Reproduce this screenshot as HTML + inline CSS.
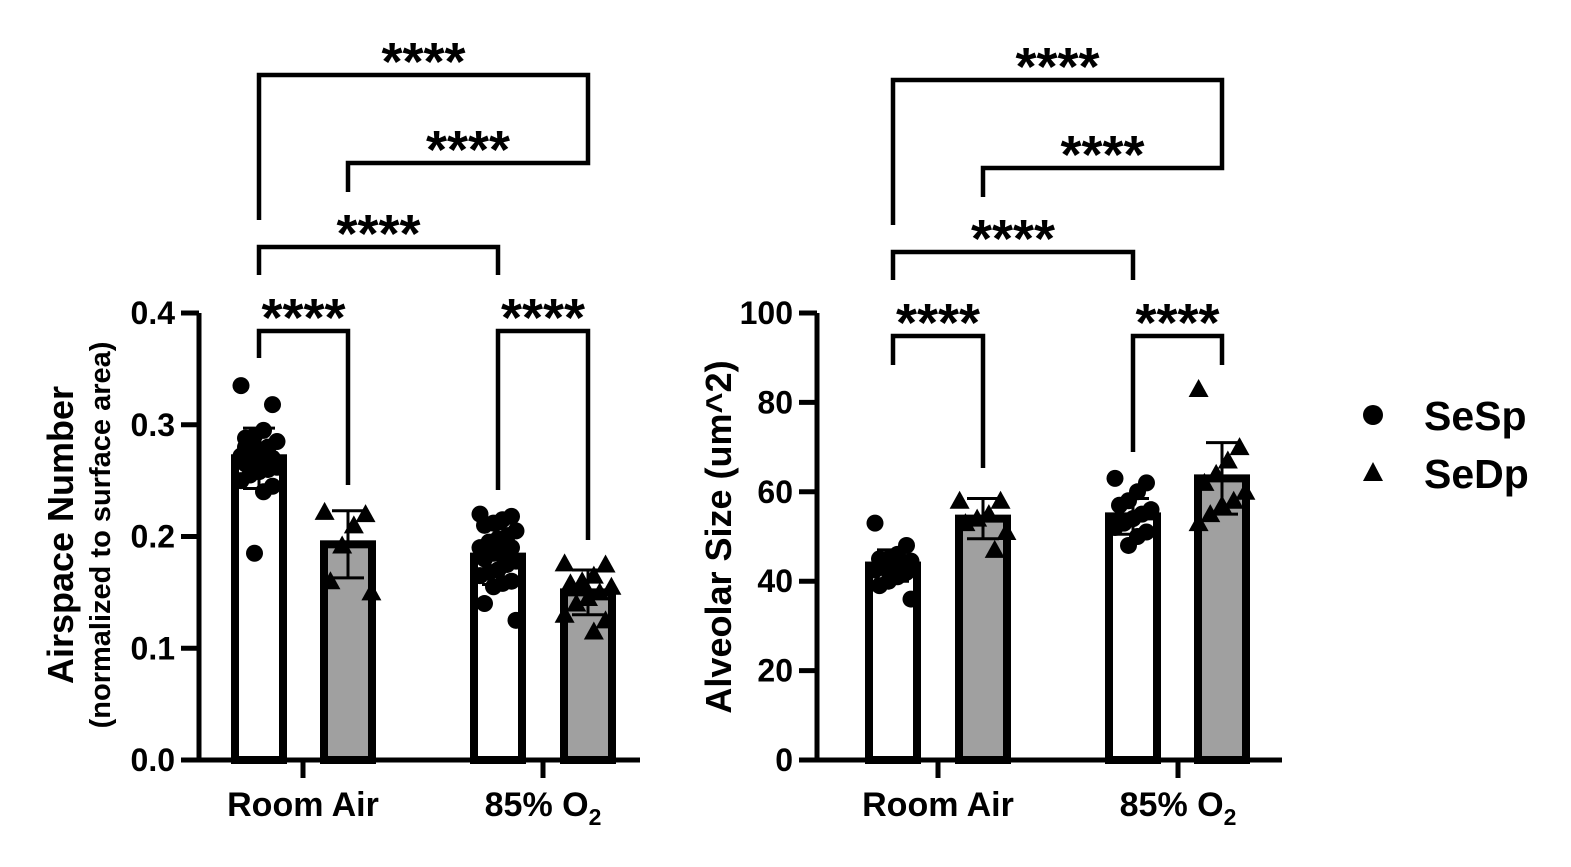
<!DOCTYPE html>
<html><head><meta charset="utf-8"><style>
body{margin:0;background:#fff;}
svg{display:block;font-family:"Liberation Sans",sans-serif;font-weight:bold;}
</style></head><body>
<svg id="chart" width="1571" height="867" viewBox="0 0 1571 867" xmlns="http://www.w3.org/2000/svg">
<g id="left"></g>
<g id="right"></g>
<g>
<circle cx="1373" cy="415" r="10" fill="#000"/>
<text x="1424" y="430" font-size="41">SeSp</text>
<polygon points="1373,462 1383,481 1363,481" fill="#000"/>
<text x="1424" y="488" font-size="41">SeDp</text>
</g>
</svg>
<script>
const groups = ["Room Air", "85% O2"];
const leftTicks = [0.0, 0.1, 0.2, 0.3, 0.4];
const leftMeans = [0.270, 0.193, 0.182, 0.150];
const leftSD = [0.027, 0.030, 0.025, 0.020];
const leftRA_SeSp = [0.335,0.318,0.295,0.290,0.288,0.285,0.280,0.278,0.275,0.272,0.270,0.270,0.268,0.265,0.262,0.260,0.258,0.255,0.250,0.245,0.240,0.185,0.280,0.266];
const leftRA_SeDp = [0.222,0.220,0.210,0.192,0.160,0.150];
const leftO2_SeSp = [0.220,0.218,0.215,0.212,0.210,0.205,0.200,0.198,0.195,0.190,0.190,0.188,0.185,0.180,0.178,0.175,0.170,0.168,0.165,0.160,0.158,0.155,0.140,0.125];
const leftO2_SeDp = [0.176,0.175,0.165,0.160,0.158,0.155,0.150,0.145,0.140,0.130,0.125,0.115];
const rightTicks = [0, 20, 40, 60, 80, 100];
const rightMeans = [43.5, 54.0, 54.5, 63.0];
const rightSD = [3.5, 4.5, 4.0, 8.0];
const rightRA_SeSp = [53,48,46,45,45,44.5,44,43.5,43,42.5,42,41,40,39,36];
const rightRA_SeDp = [58,58,55,54,53,51,47];
const rightO2_SeSp = [63,62,60,58,57,56,55,54,53,52,51,50,48];
const rightO2_SeDp = [83,70,67,64,62,60,58,57,55,53];
const NS='http://www.w3.org/2000/svg';
function mk(parent, tag, attrs){const e=document.createElementNS(NS,tag);for(const k in attrs)e.setAttribute(k,attrs[k]);parent.appendChild(e);return e;}

function drawChart(g, cfg){
  const y0=760, yTop=313;
  const ys=v=>y0-(v-cfg.min)/(cfg.max-cfg.min)*(y0-yTop);
  const ax=cfg.axisX;
  const fills=['#fff','#a0a0a0','#fff','#a0a0a0'];
  const pts=[cfg.p0,cfg.p1,cfg.p2,cfg.p3];
  cfg.centers.forEach((cx,i)=>{
    const b=mk(g,'rect',{x:cx-24,y:ys(cfg.means[i]),width:48,height:y0-ys(cfg.means[i]),fill:fills[i],stroke:'#000','stroke-width':8});
    
    
  });
  cfg.centers.forEach((cx,i)=>{
    pts[i].forEach((v,j)=>{
      const off=((j*7)%9-4)*4.5;
      let m;
      if(i%2===0){m=mk(g,'circle',{cx:cx+off,cy:ys(v),r:8.5,fill:'#000'});}
      else{const x=cx+off*1.3,y=ys(v);m=mk(g,'polygon',{points:`${x},${y-10} ${x+10},${y+8} ${x-10},${y+8}`,fill:'#000'});}
      
      
    });
  });
  cfg.centers.forEach((cx,i)=>{
    const hi=ys(cfg.means[i]+cfg.sd[i]),lo=ys(cfg.means[i]-cfg.sd[i]);
    const e=mk(g,'path',{d:`M${cx},${hi}V${lo}M${cx-16},${hi}H${cx+16}M${cx-16},${lo}H${cx+16}`,stroke:'#000','stroke-width':3,fill:'none'});
    
    
  });
  const a=mk(g,'path',{d:`M${ax},${yTop}V${y0}H${cfg.axisEnd}`,stroke:'#000','stroke-width':5,fill:'none'});
  
  
  cfg.ticks.forEach(t=>{
    const y=ys(t);
    const tk=mk(g,'line',{x1:ax-18,x2:ax,y1:y,y2:y,stroke:'#000','stroke-width':5});
    
    
    const tl=mk(g,'text',{x:ax-24,y:y+11,'text-anchor':'end','font-size':32});
    tl.textContent=cfg.fmt(t);
    
    
  });
  cfg.groupX.forEach((gx,i)=>{
    const tk=mk(g,'line',{x1:gx,x2:gx,y1:y0,y2:y0+18,stroke:'#000','stroke-width':5});
    
    
    const tl=mk(g,'text',{x:gx,y:816,'text-anchor':'middle','font-size':34});
    if(groups[i]==='85% O2'){tl.innerHTML='85% O<tspan font-size="23" dy="9">2</tspan>';}
    else tl.textContent=groups[i];
    
    
  });
  cfg.brackets.forEach(br=>{
    const [i,j,y,d1,d2]=br;
    const x1=cfg.centers[i],x2=cfg.centers[j];
    const p=mk(g,'path',{d:`M${x1},${d1}V${y}H${x2}V${d2}`,stroke:'#000','stroke-width':4.5,fill:'none'});
    
    
    const t=mk(g,'text',{x:(x1+x2)/2,y:y+5,'text-anchor':'middle','font-size':54});
    t.textContent='****';
    
    
  });
}
drawChart(document.getElementById('left'),{
  min:0,max:0.4,axisX:199,axisEnd:640,ticks:leftTicks,fmt:t=>t.toFixed(1),
  centers:[259,348,498,588],groupX:[303,543],means:leftMeans,sd:leftSD,
  p0:leftRA_SeSp,p1:leftRA_SeDp,p2:leftO2_SeSp,p3:leftO2_SeDp,
  brackets:[[0,3,75,220,138],[1,3,163,192,138],[0,2,247,275,275],[0,1,331,358,485],[2,3,331,490,540]]
});
drawChart(document.getElementById('right'),{
  min:0,max:100,axisX:817,axisEnd:1282,ticks:rightTicks,fmt:t=>String(t),
  centers:[893,983,1133,1222],groupX:[938,1178],means:rightMeans,sd:rightSD,
  p0:rightRA_SeSp,p1:rightRA_SeDp,p2:rightO2_SeSp,p3:rightO2_SeDp,
  brackets:[[0,3,80,225,143],[1,3,168,197,143],[0,2,252,280,280],[0,1,336,365,468],[2,3,336,452,365]]
});
const svg=document.getElementById('chart');
const t1=mk(svg,'text',{transform:'translate(73,535) rotate(-90)','text-anchor':'middle','font-size':36});
t1.textContent='Airspace Number';


const t2=mk(svg,'text',{transform:'translate(110,535) rotate(-90)','text-anchor':'middle','font-size':29});
t2.textContent='(normalized to surface area)';


const t3=mk(svg,'text',{transform:'translate(731,537) rotate(-90)','text-anchor':'middle','font-size':36});
t3.textContent='Alveolar Size (um^2)';


</script>
</body></html>
